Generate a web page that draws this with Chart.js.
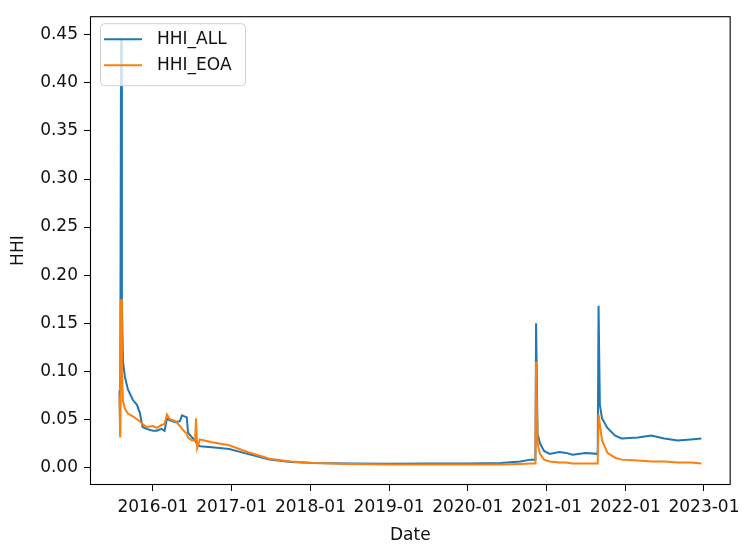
<!DOCTYPE html>
<html>
<head>
<meta charset="utf-8">
<script src="https://cdn.jsdelivr.net/npm/chart.js@4"></script>
<style>
  html, body { margin: 0; padding: 0; background: #fff; }
  canvas { display: block; }
</style>
</head>
<body>
<canvas id="chart" width="746" height="546"></canvas>
<script>
// HHI over time
const dates = [
    "2015-07-30", "2015-08-02", "2015-08-06", "2015-08-10", "2015-08-15", "2015-08-24",
    "2015-09-07", "2015-09-30", "2015-10-19", "2015-11-01", "2015-11-14", "2015-12-03",
    "2016-01-01", "2016-01-19", "2016-02-10", "2016-02-24", "2016-03-06", "2016-03-20",
    "2016-04-15", "2016-05-05", "2016-05-15", "2016-06-06", "2016-06-12", "2016-07-01",
    "2016-07-15", "2016-07-19", "2016-07-24", "2016-08-06", "2016-10-01", "2016-12-20",
    "2017-03-15", "2017-06-25", "2017-10-01", "2018-01-15", "2018-07-01", "2019-01-01",
    "2019-07-01", "2020-01-01", "2020-06-01", "2020-09-01", "2020-10-20", "2020-11-10",
    "2020-11-13", "2020-11-20", "2020-12-01", "2020-12-20", "2021-01-15", "2021-03-01",
    "2021-04-01", "2021-05-01", "2021-07-01", "2021-08-26", "2021-08-30", "2021-09-05",
    "2021-09-15", "2021-10-10", "2021-11-15", "2021-12-15", "2022-03-01", "2022-05-01",
    "2022-07-01", "2022-09-01", "2022-11-01", "2022-12-20"
];
const hhiAll = [
    0.080, 0.035, 0.445, 0.170, 0.110, 0.094,
    0.081, 0.070, 0.065, 0.057, 0.042, 0.040,
    0.038, 0.038, 0.040, 0.038, 0.051, 0.049,
    0.047, 0.048, 0.054, 0.052, 0.036, 0.031,
    0.028, 0.026, 0.024, 0.022, 0.021, 0.019,
    0.014, 0.008, 0.0055, 0.0045, 0.004, 0.0038,
    0.004, 0.004, 0.0045, 0.006, 0.008, 0.008,
    0.150, 0.035, 0.025, 0.017, 0.014, 0.016,
    0.015, 0.013, 0.015, 0.014, 0.168, 0.065,
    0.051, 0.041, 0.033, 0.030, 0.031, 0.033,
    0.030, 0.028, 0.029, 0.030
];
const hhiEoa = [
    0.074, 0.031, 0.175, 0.100, 0.069, 0.061,
    0.056, 0.053, 0.050, 0.048, 0.045, 0.042,
    0.043, 0.041, 0.044, 0.045, 0.055, 0.050,
    0.048, 0.043, 0.040, 0.035, 0.031, 0.028,
    0.028, 0.051, 0.020, 0.029, 0.026, 0.023,
    0.016, 0.009, 0.006, 0.0045, 0.0035, 0.003,
    0.003, 0.003, 0.003, 0.0035, 0.004, 0.004,
    0.110, 0.025, 0.014, 0.008, 0.006, 0.005,
    0.005, 0.004, 0.004, 0.004, 0.055, 0.045,
    0.028, 0.015, 0.010, 0.008, 0.007, 0.006,
    0.006, 0.005, 0.005, 0.004
];
const yTicks = [0, 0.05, 0.10, 0.15, 0.20, 0.25, 0.30, 0.35, 0.40, 0.45];
const xTickYears = [2016, 2017, 2018, 2019, 2020, 2021, 2022, 2023];
const seriesNames = ["HHI_ALL", "HHI_EOA"];
const seriesColors = ["#1f77b4", "#ff7f0e"];

const FONT = "DejaVu Sans";
const toPoints = vals => vals.map((v, i) => ({ x: Date.parse(dates[i]), y: v }));

// full box around the plot, like matplotlib spines
const frame = {
    id: 'frame',
    afterDatasetsDraw(chart) {
        const { ctx, chartArea: a } = chart;
        ctx.save();
        ctx.strokeStyle = '#000';
        ctx.lineWidth = 1.1;
        ctx.strokeRect(a.left + 0.5, a.top + 0.5, a.right - a.left - 1, a.bottom - a.top - 1);
        ctx.restore();
    }
};

// legend box in the upper left of the plot
const insideLegend = {
    id: 'insideLegend',
    afterDatasetsDraw(chart) {
        const { ctx, chartArea: a } = chart;
        const x = a.left + 10, y = a.top + 7, w = 145, h = 62;
        ctx.save();
        ctx.fillStyle = 'rgba(255,255,255,0.8)';
        ctx.strokeStyle = '#d0d0d0';
        ctx.lineWidth = 1;
        ctx.beginPath();
        ctx.roundRect(x + 0.5, y + 0.5, w, h, 4);
        ctx.fill();
        ctx.stroke();
        ctx.font = '17px "' + FONT + '"';
        ctx.textBaseline = 'middle';
        seriesNames.forEach((name, i) => {
            const ly = y + 16 + i * 26;
            ctx.strokeStyle = seriesColors[i];
            ctx.lineWidth = 2;
            ctx.beginPath();
            ctx.moveTo(x + 4, ly);
            ctx.lineTo(x + 42, ly);
            ctx.stroke();
            ctx.fillStyle = '#111';
            ctx.fillText(name, x + 57, ly);
        });
        ctx.restore();
    }
};

new Chart(document.getElementById("chart"), {
    type: 'line',
    data: {
        datasets: [{
            label: seriesNames[0],
            data: toPoints(hhiAll),
            borderColor: seriesColors[0],
            borderWidth: 2,
            pointRadius: 0,
            tension: 0,
            order: 1
        }, {
            // drawn over the blue line, as in the source plot
            label: seriesNames[1],
            data: toPoints(hhiEoa),
            borderColor: seriesColors[1],
            borderWidth: 2,
            pointRadius: 0,
            tension: 0,
            order: 0
        }]
    },
    options: {
        responsive: false,
        animation: false,
        layout: { padding: { top: 8, right: 13, left: 0, bottom: 0 } },
        plugins: {
            legend: { display: false },
            tooltip: { enabled: false }
        },
        scales: {
            x: {
                type: 'linear',
                min: Date.UTC(2015, 2, 15),
                max: Date.UTC(2023, 4, 5),
                afterBuildTicks: s => { s.ticks = xTickYears.map(y => ({ value: Date.UTC(y, 0, 1) })); },
                afterFit: s => { s.height = 61; },
                grid: { drawOnChartArea: false, tickLength: 6, color: '#000', lineWidth: 1 },
                border: { display: false },
                ticks: {
                    autoSkip: false,
                    maxRotation: 0,
                    minRotation: 0,
                    padding: 6,
                    color: '#111',
                    font: { family: FONT, size: 17 },
                    callback: v => new Date(v).getUTCFullYear() + '-01'
                },
                title: {
                    display: true,
                    text: 'Date',
                    color: '#111',
                    font: { family: FONT, size: 17 },
                    padding: { top: 2, bottom: 0 }
                }
            },
            y: {
                min: -0.0184,
                max: 0.4694,
                afterBuildTicks: s => { s.ticks = yTicks.map(v => ({ value: v })); },
                afterFit: s => { s.width = 90; },
                grid: { drawOnChartArea: false, tickLength: 6, color: '#000', lineWidth: 1 },
                border: { display: false },
                ticks: {
                    padding: 6,
                    color: '#111',
                    font: { family: FONT, size: 17 },
                    callback: v => v.toFixed(2)
                },
                title: {
                    display: true,
                    text: 'HHI',
                    color: '#111',
                    font: { family: FONT, size: 17 },
                    padding: { top: 8, bottom: 0 }
                }
            }
        }
    },
    plugins: [frame, insideLegend]
});
</script>
</body>
</html>
